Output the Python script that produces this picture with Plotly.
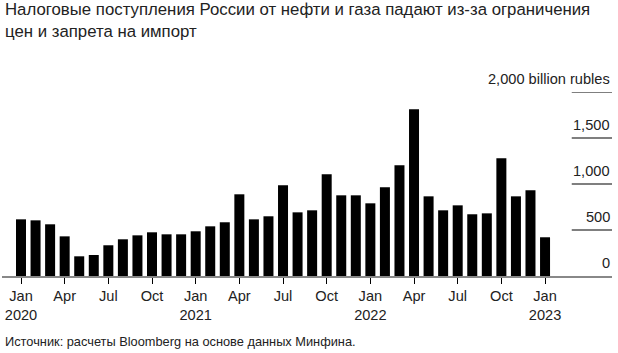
import plotly.graph_objects as go

months = [f"{y}-{m:02d}" for y in (2020, 2021, 2022) for m in range(1, 13)] + ["2023-01"]
revenue = [616, 605, 562, 431, 214, 228, 334, 399, 442, 475, 453, 453,
           486, 540, 584, 888, 616, 649, 986, 692, 714, 1105, 877, 877,
           790, 964, 1203, 1812, 866, 714, 768, 671, 681, 1279, 866, 931,
           421]
tick_months = months[::3]
tick_text = ["Jan<br>2020", "Apr", "Jul", "Oct", "Jan<br>2021", "Apr", "Jul", "Oct",
             "Jan<br>2022", "Apr", "Jul", "Oct", "Jan<br>2023"]
y_ticks = [0, 500, 1000, 1500, 2000]
y_labels = ["0", "500", "1,000", "1,500", "2,000 billion rubles"]

title = "Налоговые поступления России от нефти и газа падают из-за ограничения<br>цен и запрета на импорт"
source = "Источник: расчеты Bloomberg на основе данных Минфина."

W, H = 618, 353
ml, mr, mt, mb = 2, 6, 92.3, 77.3
ph = H - mt - mb
FONT = "Liberation Sans, Arial, sans-serif"

def py(pix):
    return (H - mb - pix) / ph

fig = go.Figure(go.Bar(x=months, y=revenue, marker=dict(color="#000000", line=dict(width=0))))

shapes = []
annotations = []
for v, lab in zip(y_ticks, y_labels):
    if v > 0:
        shapes.append(dict(type="line", xref="paper", yref="y", x0=0.934, x1=1.0, y0=v, y1=v,
                           line=dict(color="#000000", width=1.2)))
    annotations.append(dict(xref="paper", yref="y", x=1.0, y=v, yshift=13, text=lab,
                            showarrow=False, xanchor="right", yanchor="middle",
                            font=dict(family=FONT, size=14.6, color="#222222")))

annotations.append(dict(xref="paper", yref="paper", x=0, xshift=1, y=py(341), text=source,
                        showarrow=False, xanchor="left", yanchor="middle",
                        font=dict(family=FONT, size=12.8, color="#222222")))
annotations.append(dict(xref="paper", yref="paper", x=0, xshift=1, y=py(-1), text=title,
                        showarrow=False, xanchor="left", yanchor="top", align="left",
                        font=dict(family=FONT, size=16.8, color="#222222")))

fig.update_layout(
    width=W, height=H,
    margin=dict(l=ml, r=mr, t=mt, b=mb, pad=0),
    paper_bgcolor="white", plot_bgcolor="white",
    showlegend=False,
    bargap=0.313,
    xaxis=dict(type="category", categoryorder="array", categoryarray=months,
               range=[-1.305, 40.6], showgrid=False, zeroline=False,
               showline=True, linecolor="#888888", linewidth=1.5,
               ticks="outside", ticklen=6, tickcolor="#000000", tickwidth=1,
               tickmode="array", tickvals=tick_months, ticktext=tick_text,
               tickfont=dict(family=FONT, size=14.6, color="#222222")),
    yaxis=dict(range=[0, 2000], showgrid=False, zeroline=False, showline=False,
               showticklabels=False, ticks=""),
    shapes=shapes, annotations=annotations,
)

fig.write_html("out.html")
